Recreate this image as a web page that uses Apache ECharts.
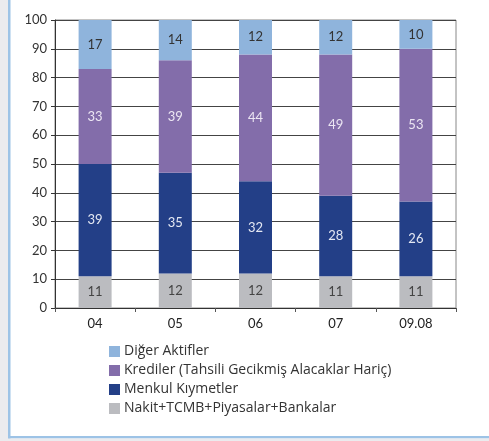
<!DOCTYPE html>
<html>
<head>
<meta charset="utf-8">
<script src="https://cdn.jsdelivr.net/npm/echarts@6/dist/echarts.min.js"></script>
<style>
  html, body { margin: 0; padding: 0; background: #ffffff; }
  #chart { width: 489px; height: 441px; }
</style>
</head>
<body>
<div id="chart"></div>
<script>
// Years on the category axis
const categories = ['04', '05', '06', '07', '09.08'];

// Asset composition shares (%), bottom to top of each stack
const nakitValues = [11, 12, 12, 11, 11];
const menkulValues = [39, 35, 32, 28, 26];
const kredilerValues = [33, 39, 44, 49, 53];
const digerValues = [17, 14, 12, 12, 10];

const yTicks = [0, 10, 20, 30, 40, 50, 60, 70, 80, 90, 100];

const seriesNames = {
  nakit: 'Nakit+TCMB+Piyasalar+Bankalar',
  menkul: 'Menkul Kıymetler',
  krediler: 'Krediler (Tahsili Gecikmiş Alacaklar Hariç)',
  diger: 'Diğer Aktifler'
};

const FONT = 'Lato, "Open Sans", sans-serif';
const LEGEND_FONT = '"Open Sans", Lato, sans-serif';

function stackSeries(name, data, color, labelColor) {
  return {
    name: name,
    type: 'bar',
    stack: 'total',
    data: data,
    barWidth: 33,
    itemStyle: { color: color },
    label: {
      show: true,
      position: 'inside',
      color: labelColor,
      fontFamily: FONT,
      fontSize: 13
    },
    emphasis: { disabled: true }
  };
}

const chart = echarts.init(document.getElementById('chart'), null, { renderer: 'canvas' });

chart.setOption({
  animation: false,
  backgroundColor: '#ffffff',
  textStyle: { fontFamily: FONT },
  graphic: [
    // left frame strip and rule
    { type: 'rect', shape: { x: 0, y: 0, width: 8, height: 441 }, style: { fill: '#ebebee' }, silent: true },
    { type: 'rect', shape: { x: 8, y: 0, width: 2.5, height: 439 }, style: { fill: '#9dc3e6' }, silent: true },
    // bottom rule and strip
    { type: 'rect', shape: { x: 8, y: 436, width: 481, height: 2.5 }, style: { fill: '#9dc3e6' }, silent: true },
    { type: 'rect', shape: { x: 0, y: 438.5, width: 489, height: 3 }, style: { fill: '#ebebee' }, silent: true }
  ],
  grid: {
    left: 55,
    right: 33,
    top: 20,
    bottom: 133,
    show: true,
    borderColor: '#888888',
    borderWidth: 1,
    backgroundColor: 'transparent'
  },
  legend: {
    orient: 'vertical',
    left: 104,
    top: 339,
    itemWidth: 11,
    itemHeight: 11,
    itemGap: 4,
    icon: 'rect',
    selectedMode: false,
    data: [seriesNames.diger, seriesNames.krediler, seriesNames.menkul, seriesNames.nakit],
    textStyle: {
      color: '#333333',
      fontFamily: LEGEND_FONT,
      fontSize: 14,
      lineHeight: 15,
      padding: [0, 0, 0, -1]
    }
  },
  xAxis: {
    type: 'category',
    data: categories,
    boundaryGap: true,
    axisLine: { show: true, lineStyle: { color: '#333333', width: 1 } },
    axisTick: { show: true, length: 4, inside: false, lineStyle: { color: '#555555' } },
    axisLabel: { color: '#222222', fontFamily: FONT, fontSize: 13, margin: 9 },
    splitLine: { show: false }
  },
  yAxis: {
    type: 'value',
    min: yTicks[0],
    max: yTicks[yTicks.length - 1],
    interval: 10,
    axisLine: { show: true, lineStyle: { color: '#333333', width: 1 } },
    axisTick: { show: true, length: 4, lineStyle: { color: '#333333' } },
    axisLabel: { color: '#333333', fontFamily: FONT, fontSize: 13, margin: 8 },
    splitLine: { show: true, lineStyle: { color: '#444444', width: 1 } }
  },
  series: [
    stackSeries(seriesNames.nakit, nakitValues, '#bbbcc0', '#444444'),
    stackSeries(seriesNames.menkul, menkulValues, '#233f87', '#e4e8f3'),
    stackSeries(seriesNames.krediler, kredilerValues, '#836daa', '#ece6f3'),
    stackSeries(seriesNames.diger, digerValues, '#8fb4dc', '#333333')
  ]
});
</script>
</body>
</html>
